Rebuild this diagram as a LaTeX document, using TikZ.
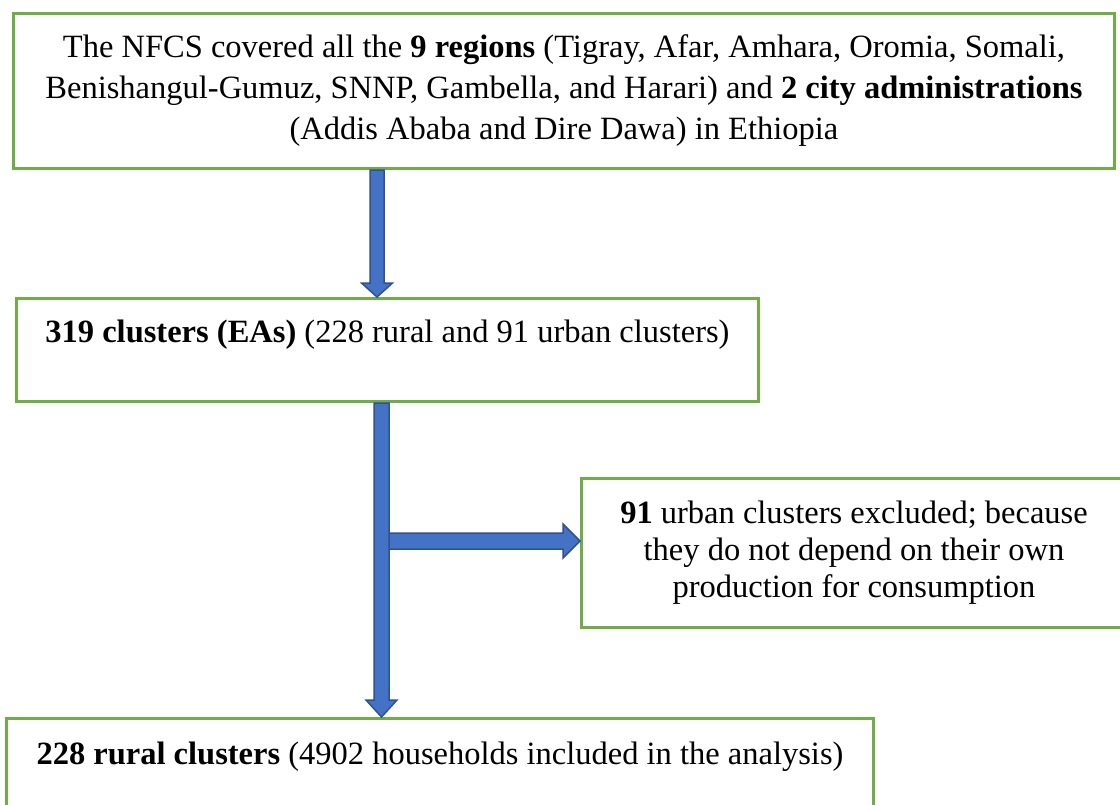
\documentclass[tikz,border=0pt]{standalone}
\usepackage{fontspec}
\setmainfont{Liberation Serif}
\usetikzlibrary{calc}
\definecolor{boxgreen}{HTML}{70AD47}
\definecolor{arrowblue}{HTML}{4472C4}
\definecolor{arrowedge}{HTML}{2F528F}

\begin{document}
\begin{tikzpicture}[x=1pt, y=-1pt,
    box/.style={draw=boxgreen, line width=3pt, align=center, inner sep=0pt, font=\fontsize{32.5}{41}\selectfont},
    blockarrow/.style={fill=arrowblue, draw=arrowedge, line width=1.5pt, line join=miter}]
        \useasboundingbox (0,0) rectangle (1120,804);
        \clip (0,0) rectangle (1120,804);
        \node[box, anchor=north west, minimum width=1101pt, minimum height=155pt] (regions) at (12,12) {The NFCS covered all the \textbf{9 regions} (Tigray, Afar, Amhara, Oromia, Somali,\\ Benishangul-Gumuz, SNNP, Gambella, and Harari) and \textbf{2 city administrations}\\ (Addis Ababa and Dire Dawa) in Ethiopia};
        \node[box, anchor=north west, minimum width=742pt, text height=24pt, text depth=39pt, inner ysep=20pt] (clusters) at (15,297) {\textbf{319 clusters (EAs)} (228 rural and 91 urban clusters)};
        \node[box, anchor=north west, minimum width=545pt, minimum height=149pt, font=\fontsize{32.5}{37}\selectfont] (excluded) at (580,477) {\textbf{91} urban clusters excluded; because\\ they do not depend on their own\\ production for consumption};
        \node[box, anchor=north west, minimum width=867pt, text height=24pt, text depth=60pt, inner ysep=22pt] (rural) at (5,717) {\textbf{228 rural clusters} (4902 households included in the analysis)};
        \coordinate (stemA) at (377,0);
        \coordinate (stemB) at (381.5,0);
        \coordinate (branch) at (381.5,541);
        \draw[blockarrow] let \p1=(stemA |- regions.south), \p2=(stemA |- clusters.north) in
            (\x1-7pt,\y1) -- (\x1-7pt,\y2+14pt) -- (\x1-15.5pt,\y2+14pt) -- (\x2,\y2) -- (\x1+15.5pt,\y2+14pt) -- (\x1+7pt,\y2+14pt) -- (\x1+7pt,\y1) -- cycle;
        \draw[blockarrow] let \p1=(branch), \p2=(branch -| excluded.west) in
            (\x1,\y1+8pt) -- (\x2-17pt,\y1+8pt) -- (\x2-17pt,\y1+17pt) -- (\x2,\y1) -- (\x2-17pt,\y1-17pt) -- (\x2-17pt,\y1-8pt) -- (\x1,\y1-8pt) -- cycle;
        \draw[blockarrow] let \p1=(stemB |- clusters.south), \p2=(stemB |- rural.north) in
            (\x1-7.5pt,\y1) -- (\x1-7.5pt,\y2+17pt) -- (\x1-15.5pt,\y2+17pt) -- (\x2,\y2) -- (\x1+15.5pt,\y2+17pt) -- (\x1+7.5pt,\y2+17pt) -- (\x1+7.5pt,\y1) -- cycle;
\end{tikzpicture}
\end{document}
